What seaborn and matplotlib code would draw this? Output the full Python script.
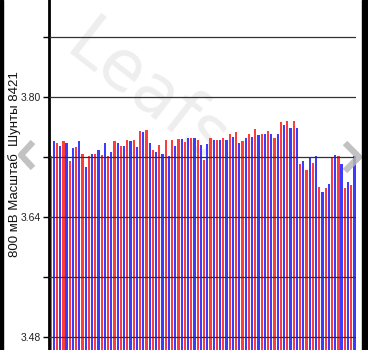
import matplotlib
matplotlib.use("Agg")
import matplotlib.pyplot as plt
from matplotlib.lines import Line2D
from matplotlib.patches import Rectangle
import seaborn as sns
import pandas as pd

# ---- data ----
categories = [str(i) for i in range(1, 49)]
series_names = ["A", "B"]
red_values = [3.7215, 3.739, 3.741, 3.714, 3.733, 3.724, 3.721, 3.724, 3.723, 3.721,
              3.741, 3.735, 3.743, 3.743, 3.755, 3.756, 3.729, 3.736, 3.742, 3.743,
              3.744, 3.740, 3.745, 3.743, 3.716, 3.745, 3.742, 3.745, 3.751, 3.753,
              3.741, 3.751, 3.757, 3.750, 3.755, 3.745, 3.767, 3.768, 3.768, 3.710,
              3.703, 3.712, 3.680, 3.679, 3.720, 3.721, 3.679, 3.682]
blue_values = [3.741, 3.734, 3.739, 3.732, 3.741, 3.707, 3.724, 3.729, 3.739, 3.727,
               3.739, 3.735, 3.741, 3.733, 3.753, 3.739, 3.727, 3.724, 3.721, 3.735,
               3.744, 3.745, 3.745, 3.736, 3.737, 3.743, 3.743, 3.743, 3.747, 3.738,
               3.745, 3.746, 3.749, 3.750, 3.751, 3.750, 3.763, 3.759, 3.759, 3.715,
               3.718, 3.721, 3.673, 3.684, 3.723, 3.710, 3.687, 3.721]
ytick_values = [3.48, 3.56, 3.64, 3.72, 3.80, 3.88]
ytick_labels = ["3.48", "", "3.64", "", "3.80", ""]
ylabel_text = "800 мВ Масштаб  Шунты 8421"
watermark_text = "Leafs"

df = pd.DataFrame({
    "cat": categories * 2,
    "series": [series_names[0]] * len(categories) + [series_names[1]] * len(categories),
    "value": red_values + blue_values,
})

sns.set_style("white")
plt.rcParams["font.family"] = ["Liberation Sans", "DejaVu Sans"]

W, H = 368, 350
fig = plt.figure(figsize=(W / 100, H / 100), dpi=100)
fig.patch.set_facecolor("white")
ax = fig.add_axes([49 / W, 0, 307 / W, 1])

sns.barplot(data=df, x="cat", y="value", hue="series", order=categories,
            hue_order=series_names, palette=["#ff3c3c", "#3c3cff"],
            width=1.0, gap=0.3, saturation=1, legend=False, ax=ax,
            linewidth=0, edgecolor="none")

ax.set_xlim(-0.5, len(categories) - 0.5)
ax.set_ylim(3.4627, 3.929)
ax.set_xticks([])
ax.set_xlabel("")
ax.set_yticks(ytick_values)
ax.set_yticklabels(ytick_labels)
ax.tick_params(axis="y", left=True, length=4, width=1, color="black",
               labelsize=7.5, pad=2, labelcolor="#222222")
ax.grid(axis="y", color="#333333", lw=0.9)
ax.grid(axis="x", visible=False)
ax.set_axisbelow(False)
for s in ["top", "right", "bottom"]:
    ax.spines[s].set_visible(False)
ax.spines["left"].set_color("black")
ax.spines["left"].set_linewidth(2)

ax.set_ylabel(ylabel_text, fontsize=9.5, color="#111111")
ax.yaxis.set_label_coords(-0.09, 0.53)

# watermark
ax.text(62 / W, 1 - 52 / H, watermark_text, transform=fig.transFigure,
        rotation=-38, rotation_mode="anchor", ha="left", va="baseline",
        fontsize=50, color="#eeeeee", zorder=0.5, clip_on=False,
        family="DejaVu Sans")

# chevrons
def px(x, y):
    return x / W, 1 - y / H

for pts in ([(33, 142), (21, 155), (33, 168)], [(345, 143), (359, 157), (345, 171)]):
    xs = [px(*p)[0] for p in pts]
    ys = [px(*p)[1] for p in pts]
    fig.add_artist(Line2D(xs, ys, transform=fig.transFigure, color="#b8b8b8",
                          lw=4.5, alpha=0.85, solid_capstyle="butt", zorder=10))

# black edges
fig.add_artist(Rectangle((0, 0), 3 / W, 1, transform=fig.transFigure,
                         color="black", zorder=20))
fig.add_artist(Rectangle((362 / W, 0), 6 / W, 1, transform=fig.transFigure,
                         color="black", zorder=20))

fig.savefig("out.png", dpi=100)
